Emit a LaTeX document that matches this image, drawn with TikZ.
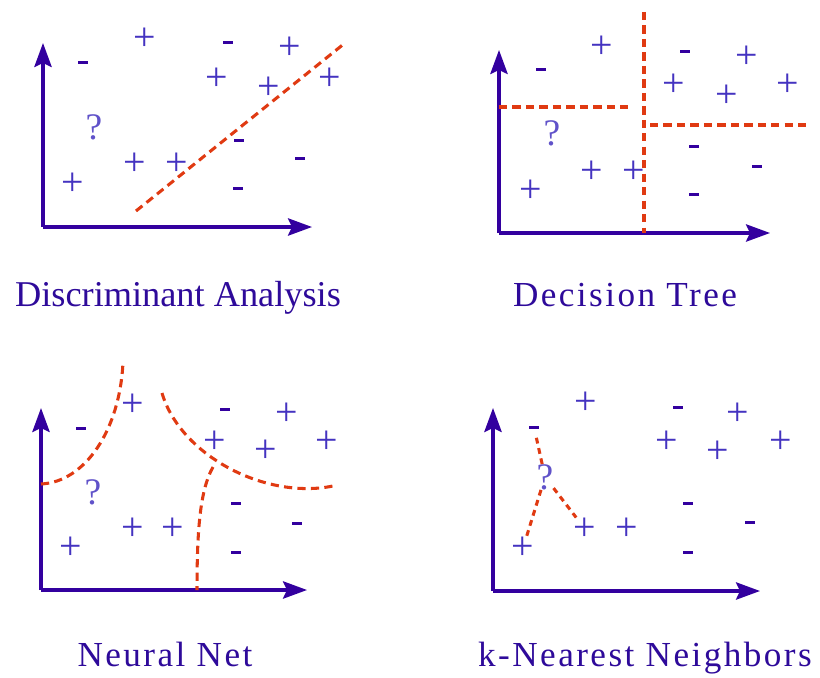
\documentclass[tikz,border=0pt]{standalone}
\usepackage{fontspec}
\setmainfont{Liberation Serif}
\newfontfamily\widefont[LetterSpace=7]{Liberation Serif}
\usetikzlibrary{arrows.meta, positioning, calc}

\definecolor{axisblue}{HTML}{33009F}
\definecolor{ptblue}{HTML}{4433C0}
\definecolor{txtblue}{HTML}{2E0A9A}
\definecolor{cutred}{HTML}{E03A12}

\begin{document}
\begin{tikzpicture}[
  x=0.03cm, y=-0.03cm,
  axis/.style={line width=2.6pt, axisblue, -{Stealth[length=0.72cm, width=0.52cm, inset=0.12cm]}},
  cut/.style={line width=2.6pt, cutred, dash pattern=on 7pt off 4.5pt},
  ptplus/.style={font=\fontsize{34}{34}\selectfont, text=ptblue, inner sep=0pt},
  ptminus/.style={fill=axisblue, minimum width=0.3cm, minimum height=0.09cm, inner sep=0pt},
  query/.style={font=\fontsize{32}{32}\selectfont, text=ptblue!85!white, inner sep=0pt},
  title/.style={font=\fontsize{30}{36}\selectfont, text=txtblue, anchor=base},
]
\useasboundingbox (0,0) rectangle (820,677);

% --- Discriminant Analysis (top left) ---
\coordinate (da-o) at (43,227);
\draw[axis] (da-o) -- (43,43);
\draw[axis] (da-o) -- (312,227);
\foreach \x/\y [count=\i] in {145/39, 290/48, 217/79, 269/88, 330/79, 135/164, 177/164, 73/184}
  \node[ptplus] (da-p\i) at (\x,\y) {+};
\foreach \x/\y [count=\i] in {228/43, 83/63, 239/140, 300/158, 238/188}
  \node[ptminus] (da-m\i) at (\x,\y) {};
\node[query] (da-q) at (94,127) {?};
\draw[cut] (136,211) -- (345,43);
\node[title, font=\fontsize{31}{36}\selectfont] (da-t) at (178,306) {Discriminant Analysis};

% --- Decision Tree (top right) ---
\coordinate (dt-o) at (499,233);
\draw[axis] (dt-o) -- (499,50);
\draw[axis] (dt-o) -- (770,233);
\foreach \x/\y [count=\i] in {602/47, 747/57, 674/85, 727/96, 788/85, 592/172, 634/172, 531/191}
  \node[ptplus] (dt-p\i) at (\x,\y) {+};
\foreach \x/\y [count=\i] in {541/70, 685/52, 694/146, 757/166, 694/194}
  \node[ptminus] (dt-m\i) at (\x,\y) {};
\node[query] (dt-q) at (552,133) {?};
% splits
\draw[cut] (644,12) -- (644,233);
\draw[cut] (499,107) -- (632,107);
\draw[cut] (650,125) -- (807,125);
\node[title, font=\widefont\fontsize{30}{36}\selectfont] (dt-t) at (625,306) {Decision Tree};

% --- Neural Net (bottom left) ---
\coordinate (nn-o) at (41,590);
\draw[axis] (nn-o) -- (41,408);
\draw[axis] (nn-o) -- (307,590);
\foreach \x/\y [count=\i] in {133/405, 287/414, 215/442, 266/451, 327/442, 133/529, 173/529, 71/548}
  \node[ptplus] (nn-p\i) at (\x,\y) {+};
\foreach \x/\y [count=\i] in {81/428, 225/409, 236/503, 297/523, 236/552}
  \node[ptminus] (nn-m\i) at (\x,\y) {};
\node[query] (nn-q) at (93,492) {?};
% decision surfaces
\coordinate (nn-j) at (213,467);
\draw[cut] (41,484) .. controls (85,482) and (120,430) .. (123,362);
\draw[cut] (162,393) .. controls (180,455) and (265,500) .. (333,486);
\draw[cut] (nn-j) .. controls (200,490) and (197,530) .. (197,590);
\node[title, font=\widefont\fontsize{30}{36}\selectfont] (nn-t) at (165,666) {Neural Net};

% --- k-Nearest Neighbors (bottom right) ---
\coordinate (kn-o) at (493,591);
\draw[axis] (kn-o) -- (493,408);
\draw[axis] (kn-o) -- (760,591);
\foreach \x/\y [count=\i] in {586/403, 738/414, 667/442, 718/452, 781/442, 585/529, 627/529, 523/548}
  \node[ptplus] (kn-p\i) at (\x,\y) {+};
\foreach \x/\y [count=\i] in {534/427, 678/407, 688/503, 750/522, 688/552}
  \node[ptminus] (kn-m\i) at (\x,\y) {};
\node[query] (kn-q) at (545,477) {?};
% nearest neighbours
\draw[cut, dash pattern=on 5pt off 4pt, shorten >=6pt] (kn-q) -- (kn-m1);
\draw[cut, dash pattern=on 5pt off 4pt] (kn-q) -- (kn-p8);
\draw[cut, dash pattern=on 5pt off 4pt] (kn-q) -- (kn-p6);
\node[title, font=\widefont\fontsize{30}{36}\selectfont] (kn-t) at (645,666) {k-Nearest Neighbors};

\end{tikzpicture}
\end{document}
